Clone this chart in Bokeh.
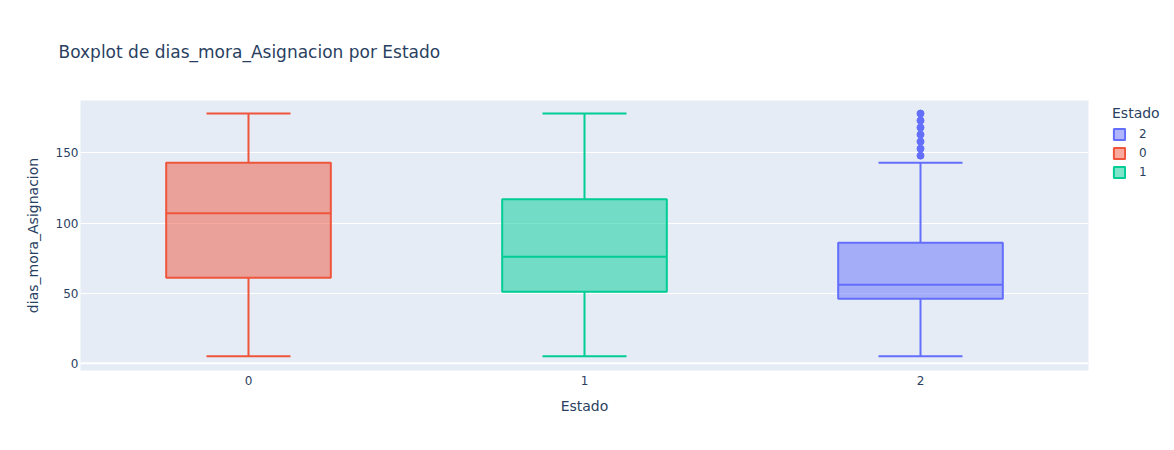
from bokeh.plotting import figure
from bokeh.models import (FactorRange, Range1d, Span, Legend, LegendItem,
                          FixedTicker, ColumnDataSource)
from bokeh.embed import file_html
from bokeh.resources import INLINE

# ---- data ----
estados = ["0", "1", "2"]
lower = [5, 5, 5]
q1 = [61, 51, 46]
median = [107, 76, 56]
q3 = [143, 117, 86]
upper = [178, 178, 143]
outliers_estado = ["2", "2", "2", "2", "2", "2", "2"]
outliers_val = [148, 153, 158, 163, 168, 173, 178]
legend_order = ["2", "0", "1"]
colors = {"0": "#EF553B", "1": "#00CC96", "2": "#636EFA"}
y_ticks = [0, 50, 100, 150]

FONT = "DejaVu Sans"
TXT = "#2a3f5f"

p = figure(frame_width=1008, frame_height=270,
           x_range=FactorRange(*estados, range_padding=0),
           y_range=Range1d(-5.1, 187.3), output_backend="svg", toolbar_location=None,
           background_fill_color="#E5ECF6", border_fill_color="white",
           min_border_left=80, min_border_right=86, min_border_top=100, min_border_bottom=80)
p.outline_line_color = None

p.title.text = "Boxplot de dias_mora_Asignacion por Estado"
p.title.text_font = FONT
p.title.text_font_size = "17px"
p.title.text_font_style = "normal"
p.title.text_color = TXT
p.title.align = "left"
p.title.offset = -22
p.title.standoff = 78

p.xgrid.grid_line_color = None
p.ygrid.grid_line_color = "white"
p.ygrid.grid_line_width = 1
p.yaxis.ticker = FixedTicker(ticks=y_ticks)

for ax in (p.xaxis[0], p.yaxis[0]):
    ax.axis_line_color = None
    ax.major_tick_line_color = None
    ax.minor_tick_line_color = None
    ax.major_tick_out = 0
    ax.major_tick_in = 0
    ax.minor_tick_out = 0
    ax.major_label_text_font = FONT
    ax.major_label_text_font_size = "12px"
    ax.major_label_text_color = TXT
    ax.axis_label_text_font = FONT
    ax.axis_label_text_font_size = "14px"
    ax.axis_label_text_font_style = "normal"
    ax.axis_label_text_color = TXT

p.xaxis.axis_label = "Estado"
p.yaxis.axis_label = "dias_mora_Asignacion"
p.xaxis.major_label_standoff = 5
p.xaxis.axis_label_standoff = 10
p.yaxis.major_label_standoff = 2
p.yaxis.axis_label_standoff = 12

p.add_layout(Span(location=0, dimension="width", line_color="white", line_width=2))

renderers = {}
for i, e in enumerate(estados):
    c = colors[e]
    src = ColumnDataSource(dict(x=[e], lo=[lower[i]], q1=[q1[i]], med=[median[i]],
                                q3=[q3[i]], hi=[upper[i]]))
    p.segment(x0="x", y0="q3", x1="x", y1="hi", source=src, line_color=c, line_width=2)
    p.segment(x0="x", y0="q1", x1="x", y1="lo", source=src, line_color=c, line_width=2)
    p.segment(x0=[(e, -0.125)], y0=[upper[i]], x1=[(e, 0.125)], y1=[upper[i]],
              line_color=c, line_width=2)
    p.segment(x0=[(e, -0.125)], y0=[lower[i]], x1=[(e, 0.125)], y1=[lower[i]],
              line_color=c, line_width=2)
    r = p.vbar(x="x", bottom="q1", top="q3", width=0.49, source=src,
               fill_color=c, fill_alpha=0.5, line_color=c, line_width=2)
    p.segment(x0=[(e, -0.245)], y0=[median[i]], x1=[(e, 0.245)], y1=[median[i]],
              line_color=c, line_width=2)
    renderers[e] = r

p.scatter(x=outliers_estado, y=outliers_val, size=7, marker="circle",
          fill_color=colors["2"], line_color=colors["2"])

legend = Legend(items=[LegendItem(label=e, renderers=[renderers[e]]) for e in legend_order],
                title="Estado", location=(24, 191), orientation="vertical")
legend.title_text_font = FONT
legend.title_text_font_size = "14px"
legend.title_text_font_style = "normal"
legend.title_text_color = TXT
legend.label_text_font = FONT
legend.label_text_font_size = "12px"
legend.label_text_color = TXT
legend.background_fill_alpha = 0
legend.border_line_color = None
legend.glyph_width = 14
legend.glyph_height = 14
legend.label_height = 14
legend.label_standoff = 13
legend.spacing = 5
legend.padding = 0
legend.margin = 0
legend.title_standoff = 6
p.add_layout(legend, "right")

open("out.html", "w").write(file_html(p, INLINE))
